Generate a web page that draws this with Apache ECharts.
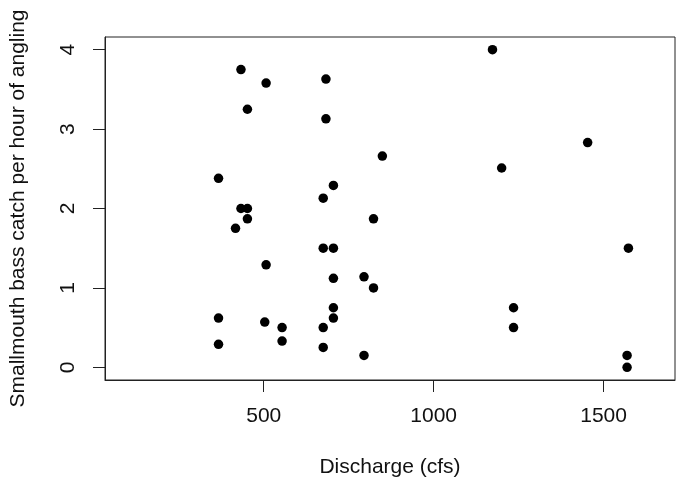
<!DOCTYPE html>
<html>
<head>
<meta charset="utf-8">
<script src="https://cdn.jsdelivr.net/npm/echarts@6/dist/echarts.min.js"></script>
<style>
html,body{margin:0;padding:0;background:#fff;}
#chart{width:677px;height:487px;}
</style>
</head>
<body>
<div id="chart"></div>
<script>
const discharge = [433,507,683,452,683,849,367,705,675,433,452,452,417,823,675,705,507,705,795,823,705,705,367,503,554,675,554,367,675,795,1173,1453,1200,1573,1235,1235,1569,1569];
const catchRate = [3.75,3.58,3.63,3.25,3.13,2.66,2.38,2.29,2.13,2.00,2.00,1.87,1.75,1.87,1.50,1.50,1.29,1.12,1.14,1.00,0.75,0.62,0.62,0.57,0.50,0.50,0.33,0.29,0.25,0.15,4.00,2.83,2.51,1.50,0.75,0.50,0.15,0.00];
const xTicks = [500,1000,1500];
const yTicks = [0,1,2,3,4];
const xTitle = 'Discharge (cfs)';
const yTitle = 'Smallmouth bass catch per hour of angling';

const points = discharge.map((d,i)=>[d, catchRate[i]]);
const font = 'Liberation Sans, Arial, sans-serif';
const chart = echarts.init(document.getElementById('chart'));
chart.setOption({
  animation:false,
  backgroundColor:'#fff',
  grid:{left:105,right:2,top:37,bottom:107,show:true,borderColor:'#222',borderWidth:1,backgroundColor:'transparent'},
  xAxis:{
    type:'value',min:33,max:1710,
    name:xTitle,nameLocation:'middle',nameGap:77,
    nameTextStyle:{fontFamily:font,fontSize:21,color:'#111'},
    axisLine:{show:true,onZero:false,lineStyle:{color:'#222',width:1}},
    axisTick:{show:true,length:12,lineStyle:{color:'#222'},customValues:xTicks},
    axisLabel:{fontFamily:font,fontSize:21,color:'#111',margin:26,customValues:xTicks,formatter:v=>String(v)},
    splitLine:{show:false}
  },
  yAxis:{
    type:'value',min:-0.16,max:4.16,
    name:yTitle,nameLocation:'middle',nameGap:76,nameRotate:90,
    nameTextStyle:{fontFamily:font,fontSize:21,color:'#111'},
    axisLine:{show:true,onZero:false,lineStyle:{color:'#222',width:1}},
    axisTick:{show:true,length:12,lineStyle:{color:'#222'},customValues:yTicks},
    axisLabel:{fontFamily:font,fontSize:21,color:'#111',margin:26,rotate:90,customValues:yTicks,formatter:v=>String(v)},
    splitLine:{show:false}
  },
  series:[{
    type:'scatter',data:points,symbol:'circle',symbolSize:9.5,
    itemStyle:{color:'#000',opacity:1}
  }]
});
</script>
</body>
</html>
